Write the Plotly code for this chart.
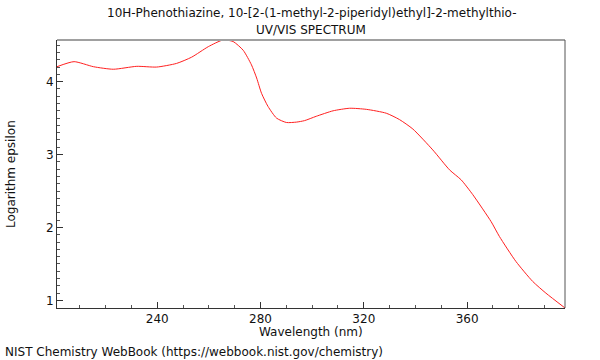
import plotly.graph_objects as go

wavelength_nm = [201.2, 207.8, 215.3, 223.0, 232.1, 239.8, 247.5, 253.3, 259.8, 265.5,
                 269.4, 273.3, 276.5, 278.5, 280.4, 282.9, 286.2, 290.0, 293.9, 297.0,
                 301.6, 308.1, 314.5, 321.0, 328.7, 333.8, 339.0, 346.7, 353.2,
                 357.7, 362.2, 369.3, 372.5, 378.9, 385.4, 390.5, 397.9]
log_epsilon = [4.205, 4.274, 4.205, 4.17, 4.21, 4.20, 4.25, 4.335, 4.48, 4.571,
               4.55, 4.43, 4.23, 4.05, 3.84, 3.66, 3.50, 3.44, 3.445, 3.465,
               3.525, 3.60, 3.635, 3.62, 3.567, 3.48, 3.35, 3.064, 2.79,
               2.653, 2.45, 2.08, 1.877, 1.534, 1.26, 1.10, 0.896]

x_ticks = [240, 280, 320, 360]
y_ticks = [1, 2, 3, 4]

title_line1 = "10H-Phenothiazine, 10-[2-(1-methyl-2-piperidyl)ethyl]-2-methylthio-"
title_line2 = "UV/VIS SPECTRUM"
x_title = "Wavelength (nm)"
y_title = "Logarithm epsilon"
footer = "NIST Chemistry WebBook (https://webbook.nist.gov/chemistry)"

FONT = "DejaVu Sans"
W, H = 600, 360
PL, PR, PT, PB = 57, 565, 40, 308  # plot area in window pixels
L, T, R, B = PL, PT, W - PR, H - PB
pw, ph = PR - PL, PB - PT

def px_x(p):
    return (p - PL) / pw

def px_y(p):
    return (PB - p) / ph

fig = go.Figure()
fig.add_trace(go.Scatter(x=wavelength_nm, y=log_epsilon, mode="lines",
                         line=dict(color="#ff2020", width=1, shape="spline", smoothing=0.6),
                         hoverinfo="skip", showlegend=False))

fig.update_layout(
    width=W, height=H,
    margin=dict(l=L, r=R, t=T, b=B),
    paper_bgcolor="white", plot_bgcolor="white",
    font=dict(family=FONT, size=12, color="#111"),
    xaxis=dict(range=[min(wavelength_nm), max(wavelength_nm)], tickvals=x_ticks,
               ticks="inside", ticklen=6, tickcolor="#333", tickwidth=1,
               showline=True, linecolor="#333", linewidth=1, showgrid=False, zeroline=False,
               minor=dict(dtick=10, tick0=200, ticks="inside", ticklen=3, tickcolor="#555"),
               tickfont=dict(size=12, family=FONT, color="#111")),
    yaxis=dict(range=[min(log_epsilon), max(log_epsilon)], tickvals=y_ticks,
               ticks="inside", ticklen=6, tickcolor="#333", tickwidth=1,
               showline=True, linecolor="#333", linewidth=1, showgrid=False, zeroline=False,
               minor=dict(dtick=0.1, tick0=0, ticks="inside", ticklen=3, tickcolor="#555"),
               tickfont=dict(size=12, family=FONT, color="#111")),
    shapes=[
        dict(type="line", xref="paper", yref="paper", x0=0, x1=1, y0=1, y1=1,
             line=dict(color="#a0a0a0", width=2)),
        dict(type="line", xref="paper", yref="paper", x0=1, x1=1, y0=0, y1=1,
             line=dict(color="#555555", width=1)),
    ],
    annotations=[
        dict(text=title_line1, x=0.5, y=px_y(13), xref="paper", yref="paper",
             showarrow=False, xanchor="center", yanchor="middle",
             font=dict(size=12, family=FONT, color="#111")),
        dict(text=title_line2, x=0.5, y=px_y(30), xref="paper", yref="paper",
             showarrow=False, xanchor="center", yanchor="middle",
             font=dict(size=12, family=FONT, color="#111")),
        dict(text=x_title, x=0.5, y=px_y(332), xref="paper", yref="paper",
             showarrow=False, xanchor="center", yanchor="middle",
             font=dict(size=12, family=FONT, color="#111")),
        dict(text=y_title, x=px_x(11), y=px_y(174), xref="paper", yref="paper",
             showarrow=False, xanchor="center", yanchor="middle", textangle=-90,
             font=dict(size=12, family=FONT, color="#111")),
        dict(text=footer, x=px_x(3), y=px_y(352), xref="paper", yref="paper",
             showarrow=False, xanchor="left", yanchor="middle",
             font=dict(size=12, family=FONT, color="#111")),
    ],
)

fig.write_html("out.html", config={"displayModeBar": False},
               post_script="document.body.style.margin='0';document.body.style.padding='0';")
